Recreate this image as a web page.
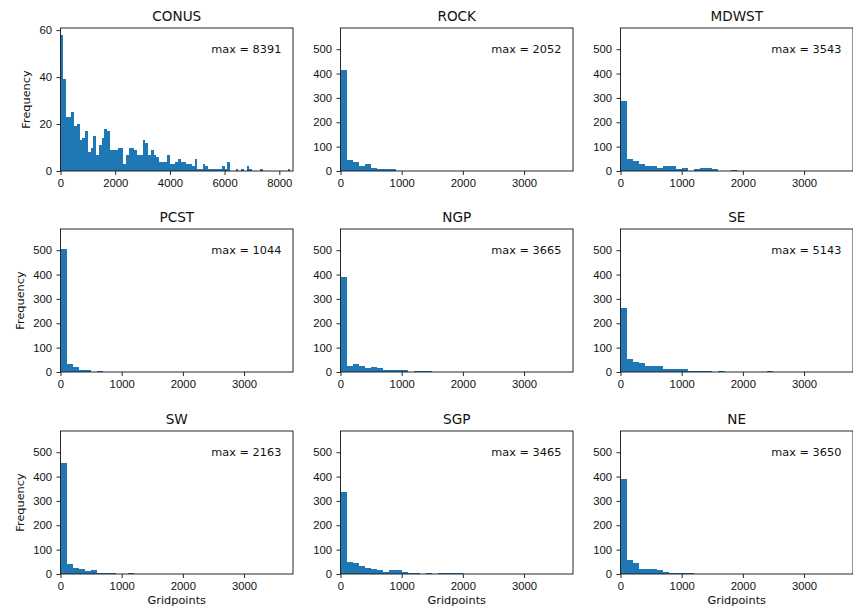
<!DOCTYPE html>
<html>
<head>
<meta charset="utf-8">
<script src="https://cdn.jsdelivr.net/npm/d3@7"></script>
<style>
  body { margin: 0; background: #fff; }
  svg { font-family: "DejaVu Sans", sans-serif; }
  .tick text { font-size: 11.3px; fill: #111; }
  .tick line { stroke: #111; stroke-width: 0.9; }
  .domain { display: none; }
  .bar { shape-rendering: crispEdges; }
</style>
</head>
<body>
<div id="chart"></div>
<script>
// DATA (bin width 100 gridpoints, counts start at bin 0-100)
const regions = ["CONUS", "ROCK", "MDWST", "PCST", "NGP", "SE", "SW", "SGP", "NE"];
const maxValues = [8391, 2052, 3543, 1044, 3665, 5143, 2163, 3465, 3650];
const binWidth = 100;

const conusCounts = [58, 39, 23, 23, 25, 19, 20, 13, 14, 17, 8, 10, 15, 7, 11, 14, 18, 17, 9, 9,
  9, 10, 10, 3, 7, 10, 10, 9, 7, 7, 13, 12, 7, 9, 7, 6, 4, 4, 4, 7,
  3, 3, 4, 5, 4, 4, 3, 3, 2, 5, 1, 1, 3, 2, 1, 1, 1, 1, 1, 2,
  1, 4, 0, 0, 1, 0, 1, 0, 2, 1, 0, 0, 0, 1, 0, 0, 0, 0, 0, 0, 0, 0, 0, 1];
const rockCounts = [415, 45, 36, 22, 27, 11, 7, 7, 7, 2, 1, 1, 0, 1, 0, 0, 1, 0, 0, 0, 1];
const mdwstCounts = [287, 50, 40, 27, 22, 22, 11, 22, 22, 7, 11, 2, 7, 11, 11, 7, 1, 1, 5, 1,
  0, 1, 0, 0, 1, 0, 0, 0, 0, 0, 0, 0, 0, 0, 0, 1];
const pcstCounts = [505, 33, 21, 7, 7, 2, 6, 1, 1, 0, 1];
const ngpCounts = [389, 26, 34, 25, 15, 19, 15, 7, 7, 10, 10, 2, 5, 5, 5, 1, 1, 0, 1, 0,
  0, 0, 0, 0, 0, 0, 0, 0, 0, 0, 0, 0, 0, 0, 0, 0, 1];
const seCounts = [263, 53, 40, 35, 26, 26, 26, 14, 14, 14, 14, 5, 5, 5, 5, 1, 5, 1, 1, 0,
  1, 0, 0, 0, 5, 0, 0, 0, 0, 0, 0, 0, 0, 0, 0, 0, 0, 0, 0, 0,
  0, 0, 0, 0, 0, 0, 0, 0, 0, 0, 0, 1];
const swCounts = [457, 43, 25, 20, 12, 15, 5, 5, 5, 1, 1, 5, 1, 0, 0, 0, 0, 0, 0, 0, 0, 1];
const sgpCounts = [337, 48, 45, 32, 25, 20, 15, 10, 15, 15, 10, 5, 5, 1, 3, 1, 5, 5, 5, 5,
  1, 0, 0, 0, 0, 0, 0, 0, 0, 0, 0, 0, 0, 0, 1];
const neCounts = [390, 57, 45, 20, 20, 20, 15, 10, 5, 5, 5, 5, 1, 0, 0, 0, 0, 0, 0, 0,
  0, 0, 0, 0, 0, 0, 0, 0, 0, 0, 0, 0, 0, 0, 0, 0, 1];

const allCounts = [conusCounts, rockCounts, mdwstCounts, pcstCounts, ngpCounts,
  seCounts, swCounts, sgpCounts, neCounts];

// axis limits and ticks
const conusXLimit = [0, 8500];
const regionXLimit = [0, 3800];
const conusYLimit = [0, 60.9];
const regionYLimit = [0, 587];
const conusXTicks = [0, 2000, 4000, 6000, 8000];
const regionXTicks = [0, 1000, 2000, 3000];
const conusYTicks = [0, 20, 40, 60];
const regionYTicks = [0, 100, 200, 300, 400, 500];

// LAYOUT
var canvas = { width: 853, height: 613 };
var colLeft = [60.5, 340.5, 620.5];
var rowTop = [28, 229, 431];
var panelWidth = 232.5;
var panelHeight = 143;

var svg = d3
  .select("#chart")
  .append("svg")
  .attr("width", canvas.width)
  .attr("height", canvas.height);

regions.forEach(function (name, i) {
  var row = Math.floor(i / 3),
    col = i % 3;
  var isConus = i === 0;
  var counts = allCounts[i];

  var x = d3
    .scaleLinear()
    .domain(isConus ? conusXLimit : regionXLimit)
    .range([0, panelWidth]);
  var y = d3
    .scaleLinear()
    .domain(isConus ? conusYLimit : regionYLimit)
    .range([panelHeight, 0]);

  var g = svg
    .append("g")
    .attr("transform", `translate(${colLeft[col]}, ${rowTop[row]})`);

  var bins = counts
    .map(function (c, k) {
      return { x0: k * binWidth, x1: (k + 1) * binWidth, count: c };
    })
    .filter(function (d) {
      return d.count > 0 && d.x0 < x.domain()[1];
    });

  // BARS
  g.selectAll(".bar")
    .data(bins)
    .enter()
    .append("rect")
    .attr("class", "bar")
    .attr("x", function (d) {
      return x(d.x0);
    })
    .attr("width", function (d) {
      return x(Math.min(d.x1, x.domain()[1])) - x(d.x0);
    })
    .attr("y", function (d) {
      return y(d.count);
    })
    .attr("height", function (d) {
      return y(0) - y(d.count);
    })
    .attr("fill", "#1f77b4");

  // AXES
  g.append("g")
    .attr("transform", `translate(0, ${panelHeight})`)
    .call(
      d3
        .axisBottom(x)
        .tickValues(isConus ? conusXTicks : regionXTicks)
        .tickSize(4)
        .tickPadding(3.5)
        .tickFormat(d3.format("d"))
    );

  var yAxis = g
    .append("g")
    .call(
      d3
        .axisLeft(y)
        .tickValues(isConus ? conusYTicks : regionYTicks)
        .tickSize(4)
        .tickPadding(4.5)
        .tickFormat(d3.format("d"))
    );

  // frame
  g.append("rect")
    .attr("width", panelWidth)
    .attr("height", panelHeight)
    .attr("fill", "none")
    .attr("stroke", "#111")
    .attr("stroke-width", 0.9);

  // TITLE
  g.append("text")
    .attr("x", panelWidth / 2)
    .attr("y", -7.5)
    .attr("text-anchor", "middle")
    .style("font-size", "13.6px")
    .style("fill", "#111")
    .text(name);

  // max label
  g.append("text")
    .attr("x", panelWidth * 0.95)
    .attr("y", 25)
    .attr("text-anchor", "end")
    .style("font-size", "11.3px")
    .style("fill", "#111")
    .text("max = " + maxValues[i]);

  // Y LABEL on first column
  if (col === 0) {
    var box = yAxis.node().getBBox();
    g.append("text")
      .attr("transform", `translate(${box.x - 9.5}, ${panelHeight / 2}) rotate(-90)`)
      .attr("text-anchor", "middle")
      .style("font-size", "11.3px")
      .style("fill", "#111")
      .text("Frequency");
  }

  // X LABEL on bottom row
  if (row === 2) {
    g.append("text")
      .attr("x", panelWidth / 2)
      .attr("y", panelHeight + 30)
      .attr("text-anchor", "middle")
      .style("font-size", "11.3px")
      .style("fill", "#111")
      .text("Gridpoints");
  }
});
</script>
</body>
</html>
